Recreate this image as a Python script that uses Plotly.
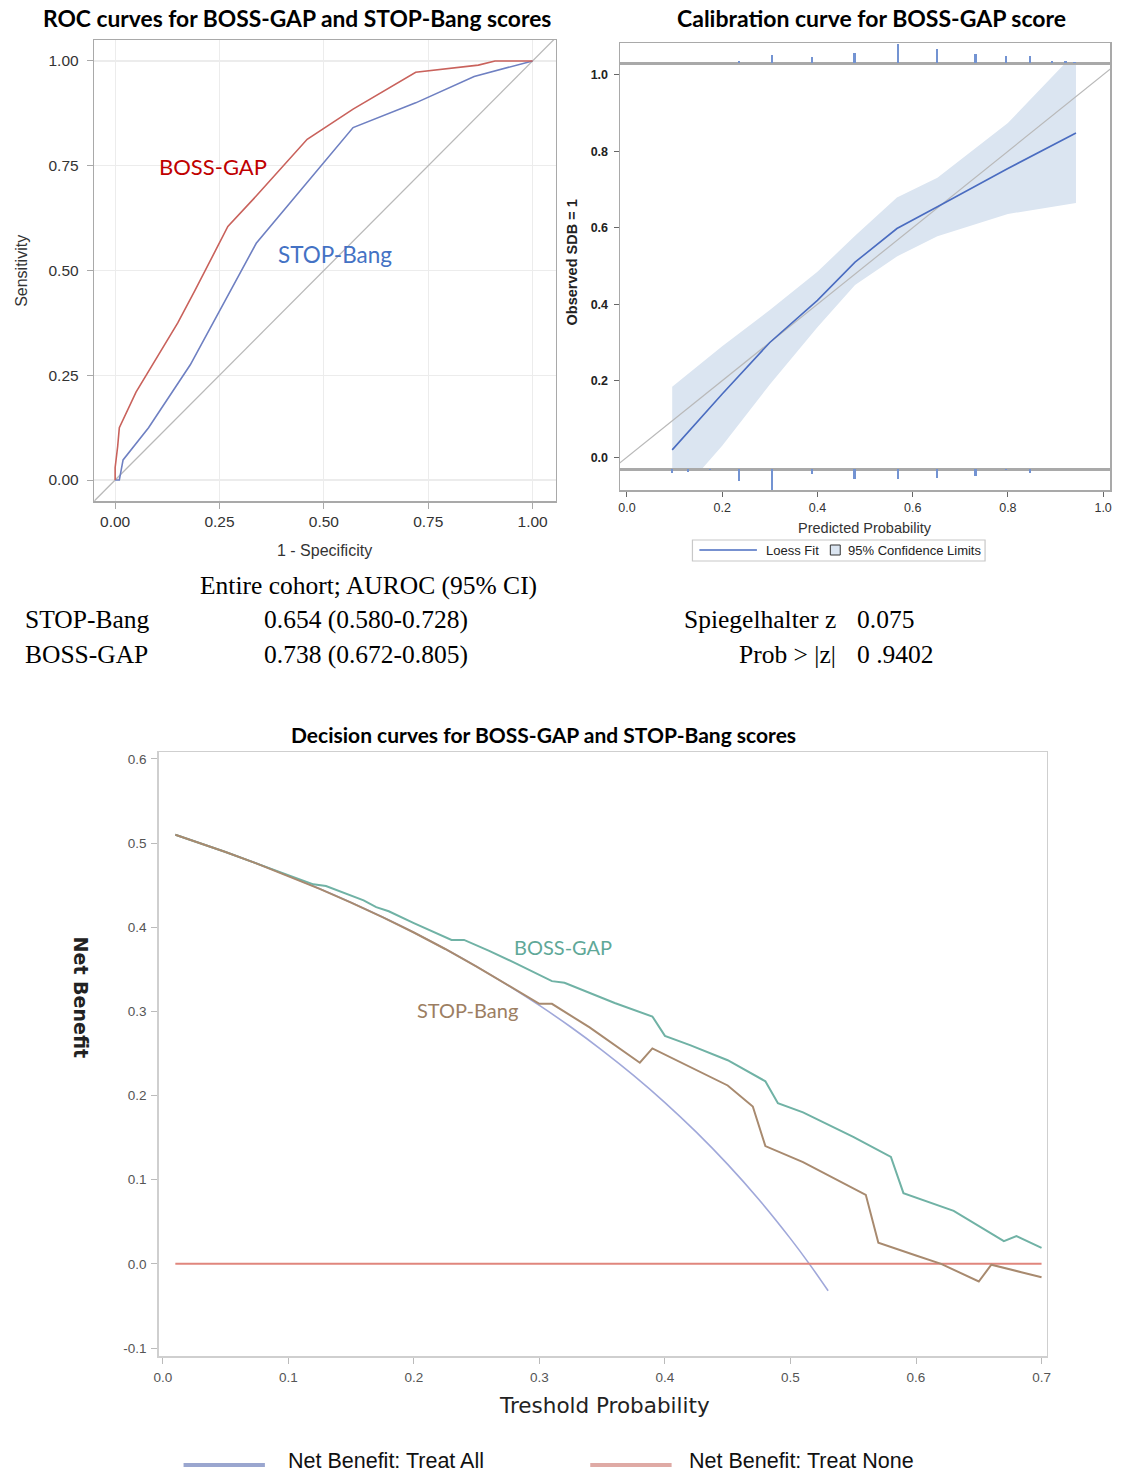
import plotly.graph_objects as go

W, H = 1121, 1477

# ---------------- DATA ----------------
# ROC curves
roc_boss_fpr = [0, 0, 0.006, 0.01, 0.05, 0.105, 0.15, 0.19, 0.27, 0.34, 0.46, 0.57, 0.72, 0.87, 0.91, 1.0]
roc_boss_tpr = [0, 0.03, 0.08, 0.125, 0.21, 0.30, 0.375, 0.45, 0.605, 0.68, 0.813, 0.885, 0.973, 0.99, 1.0, 1.0]
roc_stop_fpr = [0, 0.01, 0.019, 0.08, 0.18, 0.338, 0.57, 0.72, 0.86, 1.0]
roc_stop_tpr = [0, 0, 0.048, 0.125, 0.275, 0.565, 0.841, 0.90, 0.963, 1.0]
roc_ref = [-0.05, 1.06]
roc_ticks = [0, 0.25, 0.5, 0.75, 1.0]
roc_ticklabels = ["0.00", "0.25", "0.50", "0.75", "1.00"]

# Calibration curve
loess_x = [0.095, 0.2, 0.3, 0.4, 0.479, 0.567, 0.652, 0.8, 0.943]
loess_y = [0.019, 0.165, 0.30, 0.41, 0.51, 0.598, 0.655, 0.755, 0.848]
ci_upper = [0.184, 0.29, 0.385, 0.485, 0.579, 0.679, 0.731, 0.874, 1.06]
ci_lower = [-0.12, 0.03, 0.19, 0.34, 0.45, 0.525, 0.578, 0.636, 0.665]
cal_ref = [-0.05, 1.05]
rug_top_x = [0.235, 0.305, 0.389, 0.478, 0.569, 0.652, 0.732, 0.796, 0.846, 0.892, 0.921, 0.94]
rug_top_h = [6, 25, 18, 30, 58, 42, 28, 20, 20, 6, 6, 3]
rug_bot_x = [0.095, 0.129, 0.175, 0.235, 0.305, 0.389, 0.478, 0.569, 0.652, 0.732, 0.796, 0.846]
rug_bot_h = [12, 10, 4, 35, 60, 15, 28, 30, 25, 20, 4, 12]
cal_ticks = [0, 0.2, 0.4, 0.6, 0.8, 1.0]

# Decision curves
pt_all = [0.01, 0.05, 0.075, 0.10, 0.125, 0.15, 0.175, 0.20, 0.225, 0.25, 0.275, 0.30, 0.325,
          0.35, 0.375, 0.40, 0.425, 0.45, 0.475, 0.50, 0.515, 0.53]
nb_all = [0.510, 0.4895, 0.4757, 0.4611, 0.4457, 0.4294, 0.4121, 0.3938, 0.3742, 0.3533, 0.3310,
          0.3071, 0.2815, 0.2538, 0.2240, 0.1917, 0.1565, 0.1182, 0.0762, 0.030, 0.000, -0.032]
pt_none = [0.01, 0.70]
nb_none = [0.0, 0.0]
pt_boss = [0.01, 0.05, 0.075, 0.10, 0.12, 0.13, 0.16, 0.17, 0.18, 0.20, 0.22, 0.23, 0.24, 0.26, 0.28,
           0.31, 0.32, 0.36, 0.39, 0.40, 0.42, 0.45, 0.48, 0.49, 0.51, 0.55, 0.58, 0.59, 0.63,
           0.67, 0.68, 0.70]
nb_boss = [0.510, 0.4895, 0.4757, 0.462, 0.451, 0.449, 0.432, 0.424, 0.419, 0.405, 0.392, 0.385,
           0.385, 0.372, 0.358, 0.336, 0.334, 0.31, 0.294, 0.271, 0.26, 0.242, 0.217, 0.191, 0.180,
           0.151, 0.127, 0.084, 0.063, 0.027, 0.033, 0.019]
pt_stop = [0.01, 0.05, 0.075, 0.10, 0.125, 0.15, 0.175, 0.20, 0.225, 0.25, 0.275, 0.30, 0.31, 0.34,
           0.38, 0.39, 0.45, 0.47, 0.48, 0.51, 0.56, 0.57, 0.60, 0.62, 0.65, 0.66, 0.70]
nb_stop = [0.510, 0.4895, 0.4757, 0.4611, 0.4457, 0.4294, 0.4121, 0.3938, 0.3742, 0.3533, 0.3310,
           0.309, 0.309, 0.281, 0.239, 0.256, 0.212, 0.187, 0.140, 0.121, 0.082, 0.025, 0.010,
           0.0, -0.021, -0.001, -0.016]
dc_xticks = [0.0, 0.1, 0.2, 0.3, 0.4, 0.5, 0.6, 0.7]
dc_yticks = [-0.1, 0.0, 0.1, 0.2, 0.3, 0.4, 0.5, 0.6]
dc_yticklabels = ["-0.1", "0.0", "0.1", "0.2", "0.3", "0.4", "0.5", "0.6"]

# AUROC table
table_rows = ["STOP-Bang", "BOSS-GAP"]
table_vals = ["0.654 (0.580-0.728)", "0.738 (0.672-0.805)"]
stat_names = ["Spiegelhalter z", "Prob > |z|"]
stat_vals = ["0.075", "0 .9402"]


# ---------------- helpers (pixel -> paper fraction) ----------------
def fx(p):
    return min(1.0, max(0.0, p / W))


def fy(p):
    return min(1.0, max(0.0, 1 - p / H))


TITLE_FONT = "Lato"
SANS = "Liberation Sans"

fig = go.Figure()

# ---------------- ROC ----------------
fig.add_trace(go.Scatter(x=roc_ref, y=roc_ref, mode="lines", line=dict(color="#b9b9b9", width=1.3),
                         xaxis="x", yaxis="y", showlegend=False, hoverinfo="skip"))
fig.add_trace(go.Scatter(x=roc_stop_fpr, y=roc_stop_tpr, mode="lines",
                         line=dict(color="#6f80c2", width=1.6), xaxis="x", yaxis="y",
                         showlegend=False, name="STOP-Bang"))
fig.add_trace(go.Scatter(x=roc_boss_fpr, y=roc_boss_tpr, mode="lines",
                         line=dict(color="#c9625c", width=1.6), xaxis="x", yaxis="y",
                         showlegend=False, name="BOSS-GAP"))

# ---------------- Calibration ----------------
fig.add_trace(go.Scatter(x=loess_x, y=ci_lower, mode="lines", line=dict(width=0, color="#dbe5f1"),
                         xaxis="x2", yaxis="y2", showlegend=False, hoverinfo="skip"))
fig.add_trace(go.Scatter(x=loess_x, y=ci_upper, mode="lines", line=dict(width=0, color="#dbe5f1"),
                         fill="tonexty", fillcolor="#dbe5f1", xaxis="x2", yaxis="y2",
                         showlegend=False, name="95% Confidence Limits"))
fig.add_trace(go.Scatter(x=cal_ref, y=cal_ref, mode="lines", line=dict(color="#b9b9b9", width=1.2),
                         xaxis="x2", yaxis="y2", showlegend=False, hoverinfo="skip"))
fig.add_trace(go.Scatter(x=loess_x, y=loess_y, mode="lines", line=dict(color="#4a6cc0", width=1.6),
                         xaxis="x2", yaxis="y2", showlegend=False, name="Loess Fit"))
fig.add_trace(go.Bar(x=rug_top_x, y=rug_top_h, width=0.0045, marker=dict(color="#7393d2", line=dict(width=0)),
                     xaxis="x3", yaxis="y3", showlegend=False))
fig.add_trace(go.Bar(x=rug_bot_x, y=rug_bot_h, width=0.0045, marker=dict(color="#7393d2", line=dict(width=0)),
                     xaxis="x4", yaxis="y4", showlegend=False))

# ---------------- Decision curves ----------------
fig.add_trace(go.Scatter(x=pt_all, y=nb_all, mode="lines", line=dict(color="#a0a8da", width=1.6, shape="spline"),
                         xaxis="x5", yaxis="y5", showlegend=False, name="Net Benefit: Treat All"))
fig.add_trace(go.Scatter(x=pt_none, y=nb_none, mode="lines", line=dict(color="#e0867d", width=2),
                         xaxis="x5", yaxis="y5", showlegend=False, name="Net Benefit: Treat None"))
fig.add_trace(go.Scatter(x=pt_boss, y=nb_boss, mode="lines", line=dict(color="#70b2a5", width=2),
                         xaxis="x5", yaxis="y5", showlegend=False, name="BOSS-GAP"))
fig.add_trace(go.Scatter(x=pt_stop, y=nb_stop, mode="lines", line=dict(color="#a88a6f", width=2),
                         xaxis="x5", yaxis="y5", showlegend=False, name="STOP-Bang"))

frame = "#a9a9a9"
common = dict(zeroline=False, showline=True, mirror=True, linecolor=frame, linewidth=1.5)

CAL_L, CAL_R = 620, 1114
CAL_RANGE = [(CAL_L - 627) / 480, (CAL_R - 627) / 480]

layout = dict(
    width=W, height=H, margin=dict(l=0, r=0, t=0, b=0),
    paper_bgcolor="white", plot_bgcolor="white", showlegend=False, bargap=0, hovermode=False,
    # ROC
    xaxis=dict(domain=[fx(90), fx(555)], range=[-0.05, 1.055], anchor="y",
               tickvals=roc_ticks, ticktext=roc_ticklabels, ticks="outside", ticklen=6, tickcolor=frame,
               showgrid=True, gridcolor="#ececec", gridwidth=1.2,
               tickfont=dict(family=SANS, size=15.5, color="#333"), **common),
    yaxis=dict(domain=[fy(501), fy(40)], range=[-0.05, 1.05], anchor="x",
               tickvals=roc_ticks, ticktext=roc_ticklabels, ticks="outside", ticklen=6, tickcolor=frame,
               ticklabelstandoff=5,
               showgrid=True, gridcolor="#ececec", gridwidth=1.2,
               tickfont=dict(family=SANS, size=15.5, color="#333"), **common),
    # Calibration main
    xaxis2=dict(domain=[fx(CAL_L), fx(CAL_R)], range=CAL_RANGE, anchor="y2",
                showticklabels=False, showgrid=False, ticks="", **common),
    yaxis2=dict(domain=[fy(469), fy(63)], range=[-0.031, 1.031], anchor="x2",
                tickvals=cal_ticks, tickformat=".1f", ticks="outside", ticklen=5, tickcolor="#666",
                ticklabelstandoff=3,
                showgrid=False, tickfont=dict(family=SANS, size=12.5, color="#222", weight="bold"), **common),
    # top rug
    xaxis3=dict(domain=[fx(CAL_L), fx(CAL_R)], range=CAL_RANGE, anchor="y3", matches="x2",
                showticklabels=False, showgrid=False, ticks="", **common),
    yaxis3=dict(domain=[fy(63), fy(43)], range=[0, 61], anchor="x3",
                showticklabels=False, showgrid=False, ticks="", **common),
    # bottom rug
    xaxis4=dict(domain=[fx(CAL_L), fx(CAL_R)], range=CAL_RANGE, anchor="y4", matches="x2",
                tickvals=cal_ticks, tickformat=".1f", ticks="outside", ticklen=5, tickcolor="#666",
                showgrid=False, tickfont=dict(family=SANS, size=12.5, color="#333"), **common),
    yaxis4=dict(domain=[fy(490), fy(469)], range=[61, 0], anchor="x4",
                showticklabels=False, showgrid=False, ticks="", **common),
    # Decision curves
    xaxis5=dict(domain=[fx(155), fx(1050)], range=[-0.0032, 0.704], anchor="y5",
                tickvals=dc_xticks, tickformat=".1f", ticks="outside", ticklen=6, tickcolor="#bbb",
                ticklabelstandoff=2,
                showgrid=False, tickfont=dict(family=SANS, size=13.5, color="#555"),
                zeroline=False, showline=True, mirror=True, linecolor="#cfcfcf", linewidth=1.5),
    yaxis5=dict(domain=[fy(1356), fy(752)], range=[-0.1095, 0.6083], anchor="x5",
                tickvals=dc_yticks, ticktext=dc_yticklabels, ticks="outside", ticklen=6, tickcolor="#bbb",
                ticklabelstandoff=2,
                showgrid=False, tickfont=dict(family=SANS, size=13.5, color="#555"),
                zeroline=False, showline=True, mirror=True, linecolor="#cfcfcf", linewidth=1.5),
)
fig.update_layout(**layout)

ann = []


def text(x, y, s, size, color="#000", family=SANS, xanchor="center", weight="normal", angle=0):
    ann.append(dict(x=fx(x), y=fy(y), xref="paper", yref="paper", text=s, showarrow=False,
                    xanchor=xanchor, yanchor="middle", textangle=angle,
                    font=dict(family=family, size=size, color=color, weight=weight)))


# titles
text(294, 18, "ROC curves for BOSS-GAP and STOP-Bang scores", 22.8, "#000", TITLE_FONT, weight="bold")
text(874, 18, "Calibration curve for BOSS-GAP score", 23, "#000", TITLE_FONT, weight="bold")
text(543, 734, "Decision curves for BOSS-GAP and STOP-Bang scores", 21, "#000", TITLE_FONT, weight="bold")

# ROC axis titles & labels
text(322, 551, "1 - Specificity", 16, "#333")
text(17, 271, "Sensitivity", 16, "#333", angle=-90)
text(210, 166, "BOSS-GAP", 22, "#c00000", TITLE_FONT)
text(333, 254, "STOP-Bang", 22.5, "#4472c4", TITLE_FONT)

# Calibration axis titles
text(867, 528, "Predicted Probability", 14.5, "#333")
text(572, 262, "Observed SDB = 1", 14.5, "#222", angle=-90, weight="bold")

# calibration legend text
text(765, 550, "Loess Fit", 13, "#222", xanchor="left")
text(848, 550, "95% Confidence Limits", 13, "#222", xanchor="left")

# decision labels
text(563, 947, "BOSS-GAP", 20, "#5fa898", TITLE_FONT)
text(466, 1010, "STOP-Bang", 20, "#9c7e62", TITLE_FONT)
text(604, 1405, "Treshold Probability", 21.5, "#222", "DejaVu Sans")
text(77, 997, "Net Benefit", 19, "#222", "DejaVu Sans", angle=90, weight="bold")
text(283, 1461, "Net Benefit: Treat All", 21.5, "#111", SANS, xanchor="left")
text(688, 1461, "Net Benefit: Treat None", 21.5, "#111", SANS, xanchor="left")

# AUROC table
SERIF = "Liberation Serif"
text(366, 585, "Entire cohort; AUROC (95% CI)", 25.5, "#000", SERIF)
for i, (r, v) in enumerate(zip(table_rows, table_vals)):
    text(18, 620 + 34 * i, r, 25.5, "#000", SERIF, xanchor="left")
    text(259, 620 + 34 * i, v, 25.5, "#000", SERIF, xanchor="left")
for i, (r, v) in enumerate(zip(stat_names, stat_vals)):
    text(840, 620 + 34 * i, r, 25.5, "#000", SERIF, xanchor="right")
    text(857, 620 + 34 * i, v, 25.5, "#000", SERIF, xanchor="left")

fig.update_layout(annotations=ann)

# legend boxes / samples (paper-space decorations)
shapes = [
    dict(type="rect", xref="paper", yref="paper", x0=fx(693), x1=fx(988), y0=fy(561), y1=fy(540),
         line=dict(color="#c8c8c8", width=1.2)),
    dict(type="line", xref="paper", yref="paper", x0=fx(700), x1=fx(758), y0=fy(550), y1=fy(550),
         line=dict(color="#4a6cc0", width=1.6)),
    dict(type="rect", xref="paper", yref="paper", x0=fx(832), x1=fx(842), y0=fy(555), y1=fy(545),
         fillcolor="#dbe5f1", line=dict(color="#333", width=1)),
    dict(type="line", xref="paper", yref="paper", x0=fx(180), x1=fx(262), y0=fy(1465), y1=fy(1465),
         line=dict(color="#9aa6cf", width=4)),
    dict(type="line", xref="paper", yref="paper", x0=fx(590), x1=fx(672), y0=fy(1465), y1=fy(1465),
         line=dict(color="#dfaaa5", width=4)),
]
fig.update_layout(shapes=shapes)

# remove the default page margin so the 1121x1477 figure fills the window exactly
fig.write_html("out.html", config={"displayModeBar": False, "staticPlot": True},
               post_script="document.body.style.margin='0px';document.body.style.overflow='hidden';")
